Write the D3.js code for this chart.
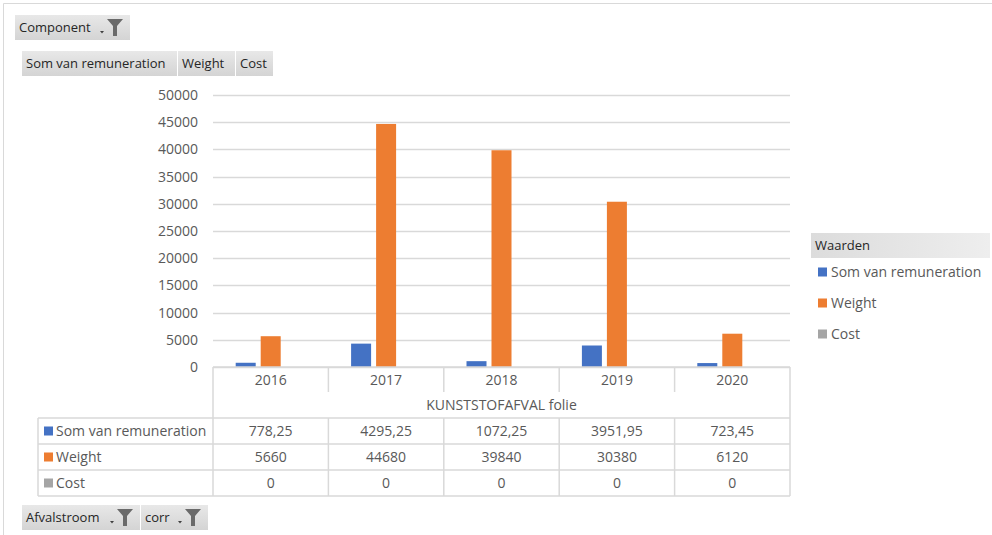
<!DOCTYPE html>
<html>
<head>
<meta charset="utf-8">
<script src="https://cdn.jsdelivr.net/npm/d3@7"></script>
<style>
    body { margin: 0; background: #fff; }
    svg text { font-family: "Open Sans", "Noto Sans", sans-serif; fill: #595959; }
</style>
</head>
<body>
<div id="chart"></div>
<script>
// pivot chart data
var years = ["2016", "2017", "2018", "2019", "2020"];
var seriesNames = ["Som van remuneration", "Weight", "Cost"];
var remunerationValues = [778.25, 4295.25, 1072.25, 3951.95, 723.45];
var weightValues = [5660, 44680, 39840, 30380, 6120];
var costValues = [0, 0, 0, 0, 0];
var yTicks = [0, 5000, 10000, 15000, 20000, 25000, 30000, 35000, 40000, 45000, 50000];
var groupLabel = "KUNSTSTOFAFVAL folie";
var colors = ["#4472C4", "#ED7D31", "#A5A5A5"];

var width = 992;
var height = 535;
var plot = {left: 213, right: 790, top: 95, bottom: 367};

var svg = d3.select("#chart").append("svg")
    .attr("width", width)
    .attr("height", height);

// outer chart border
svg.append("path")
    .attr("d", `M3.5,${height} V3.5 H${width}`)
    .attr("fill", "none")
    .attr("stroke", "#d9d9d9");

var x = d3.scaleBand().domain(years).range([plot.left, plot.right]);
var bw = x.bandwidth();
var x1 = d3.scaleBand().domain(seriesNames).range([bw / 2 - 35, bw / 2 + 35]).paddingInner(0.2);
var y = d3.scaleLinear().domain([0, 50000]).range([plot.bottom, plot.top]);

// horizontal grid lines
svg.selectAll("line.grid").data(yTicks).enter()
    .append("line")
    .attr("x1", plot.left)
    .attr("x2", plot.right)
    .attr("y1", function(d) { return Math.round(y(d)) + 0.5; })
    .attr("y2", function(d) { return Math.round(y(d)) + 0.5; })
    .attr("stroke", "#d9d9d9")
    .attr("stroke-width", 1.3);

// y-axis labels
svg.append("g")
    .attr("transform", `translate(${plot.left - 12},0)`)
    .call(d3.axisLeft(y).tickValues(yTicks).tickSize(0).tickFormat(d3.format("d")))
    .call(function(g) { g.select(".domain").remove(); })
    .selectAll("text")
    .attr("font-size", 14)
    .attr("fill", "#595959");

// bars
var data = [remunerationValues, weightValues, costValues];
data.forEach(function(values, si) {
    svg.selectAll("rect.s" + si).data(values).enter()
        .append("rect")
        .attr("x", function(d, i) { return x(years[i]) + x1(seriesNames[si]); })
        .attr("y", function(d) { return y(d); })
        .attr("width", x1.bandwidth())
        .attr("height", function(d) { return y(0) - y(d); })
        .attr("fill", colors[si]);
});

// data table under the chart
var tableLeft = 38;
var lineColor = "#d9d9d9";
var tbl = svg.append("g");

function hline(x1p, x2p, yp) {
    tbl.append("line").attr("x1", x1p).attr("x2", x2p).attr("y1", yp).attr("y2", yp)
        .attr("stroke", lineColor).attr("stroke-width", 1.5);
}
function vline(xp, y1p, y2p) {
    tbl.append("line").attr("x1", xp).attr("x2", xp).attr("y1", y1p).attr("y2", y2p)
        .attr("stroke", lineColor).attr("stroke-width", 1.5);
}

hline(plot.left, plot.right, 367);
hline(tableLeft, plot.right, 418);
hline(tableLeft, plot.right, 444);
hline(tableLeft, plot.right, 470);
hline(tableLeft, plot.right, 496);
vline(tableLeft, 418, 496);
vline(plot.left, 367, 496);
vline(plot.right, 367, 496);
years.forEach(function(yr, i) {
    if (i > 0) {
        vline(x(yr), 367, 392);
        vline(x(yr), 418, 496);
    }
    tbl.append("text")
        .attr("x", x(yr) + bw / 2)
        .attr("y", 380)
        .attr("dy", "0.35em")
        .attr("text-anchor", "middle")
        .attr("font-size", 14)
        .text(yr);
});
tbl.append("text")
    .attr("x", (plot.left + plot.right) / 2)
    .attr("y", 405)
    .attr("dy", "0.35em")
    .attr("text-anchor", "middle")
    .attr("font-size", 14)
    .text(groupLabel);

var fmt = function(v) { return String(v).replace(".", ","); };
data.forEach(function(values, si) {
    var cy = 431 + si * 26;
    tbl.append("rect")
        .attr("x", 44).attr("y", cy - 4.5).attr("width", 9).attr("height", 9)
        .attr("fill", colors[si]);
    tbl.append("text")
        .attr("x", 56).attr("y", cy).attr("dy", "0.35em")
        .attr("font-size", 14)
        .text(seriesNames[si]);
    values.forEach(function(v, i) {
        tbl.append("text")
            .attr("x", x(years[i]) + bw / 2)
            .attr("y", cy)
            .attr("dy", "0.35em")
            .attr("text-anchor", "middle")
            .attr("font-size", 14)
            .text(fmt(v));
    });
});

// legend
var defs = svg.append("defs");
var grad = defs.append("linearGradient").attr("id", "btnGrad")
    .attr("x1", 0).attr("x2", 0).attr("y1", 0).attr("y2", 1);
grad.append("stop").attr("offset", "0%").attr("stop-color", "#e8e8e8");
grad.append("stop").attr("offset", "100%").attr("stop-color", "#d4d4d4");
var lgrad = defs.append("linearGradient").attr("id", "legGrad")
    .attr("x1", 0).attr("x2", 1).attr("y1", 0).attr("y2", 0);
lgrad.append("stop").attr("offset", "0%").attr("stop-color", "#dcdcdc");
lgrad.append("stop").attr("offset", "100%").attr("stop-color", "#eeeeee");

var legend = svg.append("g");
legend.append("rect")
    .attr("x", 811).attr("y", 233).attr("width", 179).attr("height", 25)
    .attr("fill", "url(#legGrad)");
legend.append("text")
    .attr("x", 815).attr("y", 245.5).attr("dy", "0.35em")
    .attr("font-size", 13).style("fill", "#262626")
    .text("Waarden");
seriesNames.forEach(function(name, i) {
    var cy = 272 + i * 31;
    legend.append("rect")
        .attr("x", 818).attr("y", cy - 4.5).attr("width", 9).attr("height", 9)
        .attr("fill", colors[i]);
    legend.append("text")
        .attr("x", 831).attr("y", cy).attr("dy", "0.35em")
        .attr("font-size", 14)
        .text(name);
});

// pivot field buttons
function fieldButton(bx, by, bw2, label, filter) {
    var g = svg.append("g");
    g.append("rect")
        .attr("x", bx).attr("y", by).attr("width", bw2).attr("height", 25)
        .attr("fill", "url(#btnGrad)");
    g.append("text")
        .attr("x", bx + 4).attr("y", by + 12.5).attr("dy", "0.35em")
        .attr("font-size", 13).style("fill", "#262626")
        .text(label);
    if (filter) {
        var fx = bx + bw2 - 23;
        var fy = by + 4;
        // small dropdown mark
        g.append("path")
            .attr("d", `M${fx - 7},${fy + 12} h4 l-2,2.5 z`)
            .attr("fill", "#404040");
        // funnel
        g.append("path")
            .attr("d", `M${fx},${fy} h16 l-6,7 v10 h-4 v-10 z`)
            .attr("fill", "#6a6a6a");
    }
}
fieldButton(15, 15, 115, "Component", true);
fieldButton(22, 51, 155, "Som van remuneration", false);
fieldButton(178, 51, 57, "Weight", false);
fieldButton(236, 51, 37, "Cost", false);
fieldButton(22, 505, 118, "Afvalstroom", true);
fieldButton(141, 505, 67, "corr", true);
</script>
</body>
</html>
